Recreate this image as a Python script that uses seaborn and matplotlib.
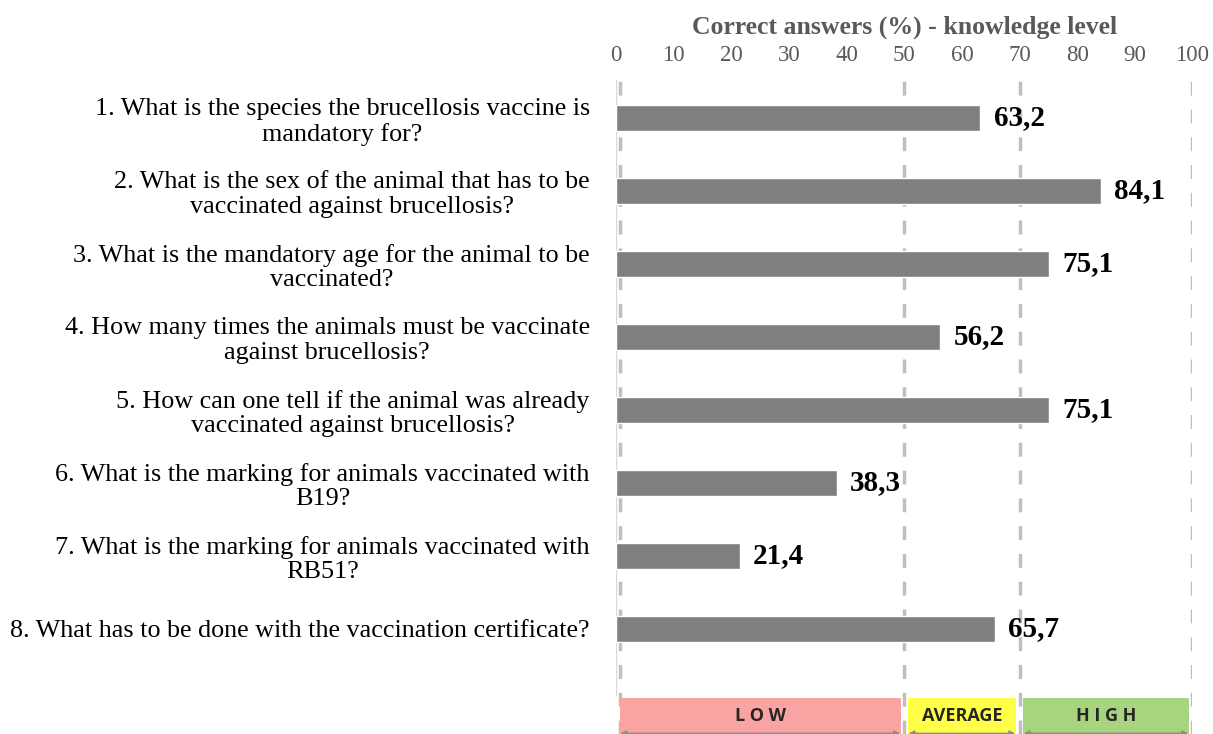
import matplotlib.pyplot as plt
import seaborn as sns
import pandas as pd

questions = [
    "1. What is the species the brucellosis vaccine is\nmandatory for?",
    "2. What is the sex of the animal that has to be\nvaccinated against brucellosis?",
    "3. What is the mandatory age for the animal to be\nvaccinated?",
    "4. How many times the animals must be vaccinate\nagainst brucellosis?",
    "5. How can one tell if the animal was already\nvaccinated against brucellosis?",
    "6. What is the marking for animals vaccinated with\nB19?",
    "7. What is the marking for animals vaccinated with\nRB51?",
    "8. What has to be done with the vaccination certificate?",
]
correct_pct = [63.2, 84.1, 75.1, 56.2, 75.1, 38.3, 21.4, 65.7]

level_names = ["L O W", "AVERAGE", "H I G H"]
level_bounds = [(0, 50), (50, 70), (70, 100)]
level_colors = ["#F9A3A3", "#FFFF47", "#A9D47F"]
thresholds = [0, 50, 70, 100]

df = pd.DataFrame({"question": questions, "pct": correct_pct})

sns.set_style("white")
plt.rcParams['font.family'] = ['Liberation Serif', 'DejaVu Serif']

fig = plt.figure(figsize=(12.13, 7.34), dpi=100)
ax = fig.add_axes([0.508, 0.0, 0.475, 0.891])

sns.barplot(data=df, y="question", x="pct", orient="h", color="#7F7F7F",
            width=0.36, saturation=1, ax=ax, zorder=3)

# dashed reference lines
for t in thresholds:
    ax.axvline(t + (0.6 if t == 0 else 0), color="#BFBFBF", lw=2.5,
               linestyle=(0, (4, 4)), zorder=1)
ax.axvline(0, color="#D9D9D9", lw=1, zorder=2, ymin=0.06)

# value labels
for i, v in enumerate(correct_pct):
    ax.text(v + 2.3, i, f"{v:.1f}".replace(".", ","), va="center", ha="left",
            fontsize=21, fontweight="bold", color="black", zorder=4)

# knowledge level band
band_y0, band_h = 7.94, 0.5
for (a, b), name, c in zip(level_bounds, level_names, level_colors):
    ax.add_patch(plt.Rectangle((a + 0.6, band_y0), b - a - 1.2, band_h,
                               facecolor=c, edgecolor="none", zorder=3))
    ax.text((a + b) / 2, band_y0 + band_h * 0.5, name, ha="center", va="center",
            fontsize=13, fontweight="bold", color="#262626",
            family=["Open Sans", "DejaVu Sans"], zorder=4)
    ax.annotate("", xy=(a + 0.3, 8.43), xytext=(b - 0.3, 8.43),
                arrowprops=dict(arrowstyle="<|-|>", color="#8C8C8C", lw=1,
                                mutation_scale=8), zorder=5)

ax.set_ylim(8.44, -0.52)
ax.set_xlim(0, 100)
ax.set_xticks(range(0, 101, 10))
ax.xaxis.tick_top()
ax.xaxis.set_label_position("top")
ax.tick_params(axis="x", length=0, labelsize=16.5, labelcolor="#595959", pad=10)
ax.tick_params(axis="y", length=0, labelsize=18.8, pad=19, labelcolor="black")
ax.set_xlabel("Correct answers (%) - knowledge level", fontsize=18.5,
              fontweight="bold", color="#595959")
ax.xaxis.set_label_coords(0.5, 1.071)
ax.set_ylabel("")
for lbl in ax.get_yticklabels():
    lbl.set_multialignment("center")
    lbl.set_linespacing(1.15)
for s in ax.spines.values():
    s.set_visible(False)

fig.savefig("out.png", dpi=100)
